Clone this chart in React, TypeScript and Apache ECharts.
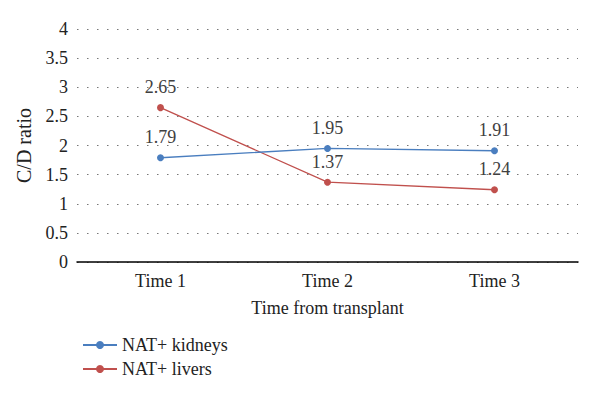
import React, { useEffect, useRef } from "react";
import * as echarts from "echarts";

const categories = ["Time 1", "Time 2", "Time 3"];
const kidneys = [1.79, 1.95, 1.91];
const livers = [2.65, 1.37, 1.24];
const seriesNames = ["NAT+ kidneys", "NAT+ livers"];

const FONT = "Liberation Serif";

export default function App() {
  const ref = useRef<HTMLDivElement>(null);
  useEffect(() => {
    if (!ref.current) return;
    const chart = echarts.init(ref.current, null, { renderer: "svg" });
    const label = {
      show: true,
      position: "top" as const,
      distance: 8,
      color: "#404040",
      fontFamily: FONT,
      fontSize: 18,
    };
    chart.setOption({
      animation: false,
      textStyle: { fontFamily: FONT },
      grid: { left: 77, right: 22, top: 29, bottom: 134, containLabel: false },
      legend: {
        orient: "vertical",
        left: 77,
        top: 331,
        itemWidth: 34,
        itemHeight: 10,
        itemGap: 6,
        textStyle: { fontFamily: FONT, fontSize: 18, color: "#222" },
        data: seriesNames,
      },
      xAxis: {
        type: "category",
        data: categories,
        boundaryGap: true,
        name: "Time from transplant",
        nameLocation: "middle",
        nameGap: 37,
        nameTextStyle: { fontFamily: FONT, fontSize: 18, color: "#222" },
        axisLine: { lineStyle: { color: "#000", width: 1.5 } },
        axisTick: { show: false },
        axisLabel: { fontFamily: FONT, fontSize: 18, color: "#222", margin: 10 },
      },
      yAxis: {
        type: "value",
        min: 0,
        max: 4,
        interval: 0.5,
        name: "C/D ratio",
        nameLocation: "middle",
        nameGap: 43,
        nameTextStyle: { fontFamily: FONT, fontSize: 20, color: "#222" },
        axisLine: { show: false },
        axisTick: { show: false },
        axisLabel: { fontFamily: FONT, fontSize: 18, color: "#222", margin: 9 },
        splitLine: {
          show: true,
          lineStyle: { color: "#777", type: [1.5, 8.5], width: 1.2 },
        },
      },
      series: [
        {
          name: seriesNames[0],
          type: "line",
          data: kidneys,
          symbol: "circle",
          symbolSize: 7,
          itemStyle: { color: "#4a7ebf" },
          lineStyle: { color: "#4a7ebf", width: 1.3 },
          label,
          z: 3,
        },
        {
          name: seriesNames[1],
          type: "line",
          data: livers,
          symbol: "circle",
          symbolSize: 7,
          itemStyle: { color: "#c0504d" },
          lineStyle: { color: "#c0504d", width: 1.3 },
          label,
          z: 2,
        },
      ],
    });
    return () => chart.dispose();
  }, []);
  return <div ref={ref} style={{ width: 600, height: 396, position: "absolute", left: 0, top: 0, background: "#fff" }} />;
}
